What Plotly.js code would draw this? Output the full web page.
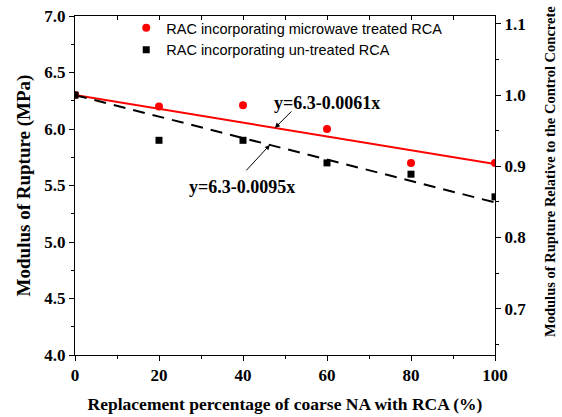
<!DOCTYPE html>
<html><head><meta charset="utf-8">
<script src="https://cdn.plot.ly/plotly-3.0.1.min.js"></script>
<style>html,body{margin:0;padding:0;background:#fff}#chart{width:562px;height:417px}</style>
</head><body><div id="chart"></div>
<script>
const replacement = [0, 20, 40, 60, 80, 100];
const treatedMOR = [6.3, 6.2, 6.21, 6.0, 5.7, 5.7];
const untreatedMOR = [6.3, 5.9, 5.9, 5.7, 5.6, 5.4];
const seriesNames = ["RAC incorporating microwave treated RCA", "RAC incorporating un-treated RCA"];
const fitIntercept = 6.3;
const treatedSlope = 0.0061;
const untreatedSlope = 0.0095;
const fitX = [0, 100];
const controlMOR = 6.3;
const leftTicks = [4.0, 4.5, 5.0, 5.5, 6.0, 6.5, 7.0];
const rightTicks = [0.7, 0.8, 0.9, 1.0, 1.1];
const xTicks = [0, 20, 40, 60, 80, 100];
const rightTitle = "Modulus of Rupture Relative to the Control Concrete";

const serif = "Liberation Serif";
const sans = "Liberation Sans";
const bold = (size) => ({family: serif, size: size, color: "#000", weight: "bold"});

const traces = [
  {x: fitX, y: fitX.map(v => fitIntercept - treatedSlope * v), mode: "lines",
   line: {color: "#ff0000", width: 2}, showlegend: false, hoverinfo: "skip"},
  {x: fitX, y: fitX.map(v => fitIntercept - untreatedSlope * v), mode: "lines",
   line: {color: "#000000", width: 2, dash: "12px,8px"}, showlegend: false, hoverinfo: "skip"},
  {x: replacement, y: treatedMOR, mode: "markers", name: seriesNames[0],
   marker: {symbol: "circle", size: 8, color: "#ff0000"}},
  {x: replacement, y: untreatedMOR, mode: "markers", name: seriesNames[1],
   marker: {symbol: "square", size: 7, color: "#000000"}},
  // relative values on the secondary (top/right) axes, invisible: they only make those axes render
  {x: replacement, y: treatedMOR.map(v => v / controlMOR), xaxis: "x2", yaxis: "y2",
   mode: "markers", marker: {opacity: 0}, showlegend: false, hoverinfo: "skip"}
];

const fitY = (slope, x) => fitIntercept - slope * x;

const layout = {
  width: 562, height: 417,
  margin: {l: 75, r: 67, t: 16, b: 62},
  paper_bgcolor: "#fff", plot_bgcolor: "#fff",
  showlegend: true,
  legend: {x: 0.122, y: 1.012, xanchor: "left", yanchor: "top", bgcolor: "rgba(0,0,0,0)",
           font: {family: sans, size: 14.5, color: "#000"}, itemwidth: 30, tracegroupgap: 0},
  xaxis: {range: [0, 100], tickvals: xTicks, ticktext: xTicks.map(String),
          ticks: "outside", ticklen: 5, tickwidth: 1, tickcolor: "#000",
          minor: {dtick: 10, ticks: "outside", ticklen: 3, tickcolor: "#000"},
          showline: true, linecolor: "#000", linewidth: 1, showgrid: false, zeroline: false,
          tickfont: bold(17),
          title: {text: "Replacement percentage of coarse NA with RCA (%)", font: bold(17.5), standoff: 13}},
  xaxis2: {overlaying: "x", side: "top", range: [0, 100], dtick: 10, tick0: 0,
           ticks: "inside", ticklen: 4, tickcolor: "#000", showticklabels: false,
           showline: true, linecolor: "#000", linewidth: 1, showgrid: false, zeroline: false},
  yaxis: {range: [4, 7], tickvals: leftTicks, ticktext: leftTicks.map(v => v.toFixed(1)),
          ticks: "outside", ticklen: 5, tickwidth: 1, tickcolor: "#000",
          minor: {dtick: 0.25, ticks: "outside", ticklen: 3, tickcolor: "#000"},
          showline: true, linecolor: "#000", linewidth: 1, showgrid: false, zeroline: false,
          tickfont: bold(17),
          title: {text: "Modulus of Rupture (MPa)", font: bold(19), standoff: 8}},
  yaxis2: {overlaying: "y", side: "right", range: [4 / controlMOR, 7 / controlMOR],
           tickvals: rightTicks, ticktext: rightTicks.map(v => v.toFixed(1)),
           ticks: "outside", ticklen: 5, tickwidth: 1, tickcolor: "#000",
           minor: {dtick: 0.05, tick0: 0.65, ticks: "outside", ticklen: 3, tickcolor: "#000"},
           showline: true, linecolor: "#000", linewidth: 1, showgrid: false, zeroline: false,
           tickfont: bold(17)},
  annotations: [
    {x: 47.6, y: fitY(treatedSlope, 47.6), xref: "x", yref: "y", text: "",
     showarrow: true, arrowhead: 2, arrowsize: 1, arrowwidth: 1, arrowcolor: "#000", ax: 18, ay: -18},
    {x: 46.4, y: fitY(untreatedSlope, 46.4), xref: "x", yref: "y", text: "",
     showarrow: true, arrowhead: 2, arrowsize: 1, arrowwidth: 1, arrowcolor: "#000", ax: -25, ay: 27},
    {x: 46.9, y: 6.23, xref: "x", yref: "y", text: "y=6.3-0.0061x", showarrow: false,
     xanchor: "left", yanchor: "middle", font: bold(18)},
    {x: 26.7, y: 5.49, xref: "x", yref: "y", text: "y=6.3-0.0095x", showarrow: false,
     xanchor: "left", yanchor: "middle", font: bold(18)},
    {x: 1.131, y: 0.54, xref: "paper", yref: "paper", text: rightTitle, textangle: -90,
     showarrow: false, xanchor: "center", yanchor: "middle", font: bold(14.5)}
  ]
};

Plotly.newPlot("chart", traces, layout, {staticPlot: true, displayModeBar: false});
</script></body></html>
